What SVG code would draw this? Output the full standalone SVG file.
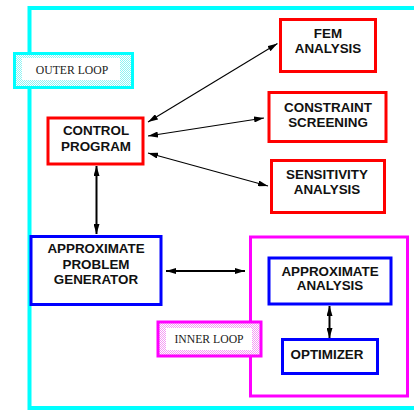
<svg xmlns="http://www.w3.org/2000/svg" width="414" height="410" viewBox="0 0 414 410">
<defs>
<style>
.box{fill:#fff;stroke-width:3}
.red{stroke:#ff0000}
.blue{stroke:#0000ff}
.t{font-family:"Liberation Sans",Arial,sans-serif;font-weight:bold;font-size:13.4px;fill:#111;text-anchor:middle}
.s{font-family:"Liberation Serif","Times New Roman",serif;font-size:11.7px;fill:#222;text-anchor:middle}
.thin{stroke:#000;stroke-width:1.1;fill:none}
.thick{stroke:#000;stroke-width:2;fill:none}
</style>
<pattern id="pc" width="2" height="2" patternUnits="userSpaceOnUse">
<rect width="2" height="2" fill="#ffffff"/>
<rect width="1" height="1" fill="#8ef4f4"/>
<rect x="1" y="1" width="1" height="1" fill="#8ef4f4"/>
</pattern>
<pattern id="pm" width="2" height="2" patternUnits="userSpaceOnUse">
<rect width="2" height="2" fill="#ffffff"/>
<rect width="1" height="1" fill="#f49cf4"/>
<rect x="1" y="1" width="1" height="1" fill="#f49cf4"/>
</pattern>
<marker id="a" viewBox="0 0 10 6" refX="10" refY="3" markerWidth="10" markerHeight="6" markerUnits="userSpaceOnUse" orient="auto-start-reverse">
<path d="M0,0 L10,3 L0,6 z" fill="#000"/>
</marker>
<marker id="b" viewBox="0 0 10 6" refX="10" refY="3" markerWidth="10" markerHeight="6" markerUnits="userSpaceOnUse" orient="auto-start-reverse">
<path d="M0,0 L10,3 L0,6 z" fill="#000"/>
</marker>
</defs>
<rect width="414" height="410" fill="#fff"/>
<g id="outer-frame">
<rect x="29.5" y="8" width="400" height="400" fill="none" stroke="#00ffff" stroke-width="4"/>
</g>
<g id="outer-loop-label">
<rect x="14.5" y="53.5" width="118" height="34" fill="url(#pc)" stroke="#00ffff" stroke-width="3"/>
<rect x="22" y="58" width="98" height="22" fill="#fff"/>
<text class="s" x="72" y="74">OUTER LOOP</text>
</g>
<g id="inner-frame">
<rect x="250.5" y="237" width="157" height="159" fill="#fff" stroke="#ff00ff" stroke-width="3"/>
</g>
<g id="inner-loop-label">
<rect x="158" y="322" width="103" height="34" fill="url(#pm)" stroke="#ff00ff" stroke-width="3"/>
<rect x="166" y="328" width="86" height="22" fill="#fff"/>
<text class="s" x="209" y="343">INNER LOOP</text>
</g>
<g id="control-program">
<rect class="box red" x="48" y="118" width="95" height="46"/>
<text class="t" x="96" y="135">CONTROL</text>
<text class="t" x="96" y="151">PROGRAM</text>
</g>
<g id="fem-analysis">
<rect class="box red" x="280.5" y="19.5" width="95" height="52"/>
<text class="t" x="328" y="38">FEM</text>
<text class="t" x="328" y="53">ANALYSIS</text>
</g>
<g id="constraint-screening">
<rect class="box red" x="269" y="92.5" width="117" height="49"/>
<text class="t" x="328" y="112">CONSTRAINT</text>
<text class="t" x="328" y="127">SCREENING</text>
</g>
<g id="sensitivity-analysis">
<rect class="box red" x="271.5" y="160.5" width="113" height="52"/>
<text class="t" x="327" y="179">SENSITIVITY</text>
<text class="t" x="327" y="194">ANALYSIS</text>
</g>
<g id="approximate-problem-generator">
<rect class="box blue" x="31" y="236.5" width="130" height="68"/>
<text class="t" x="96" y="253">APPROXIMATE</text>
<text class="t" x="96" y="269">PROBLEM</text>
<text class="t" x="96" y="284">GENERATOR</text>
</g>
<g id="approximate-analysis">
<rect class="box blue" x="269" y="258" width="122" height="46"/>
<text class="t" x="330" y="276">APPROXIMATE</text>
<text class="t" x="330" y="290">ANALYSIS</text>
</g>
<g id="optimizer">
<rect class="box blue" x="282.5" y="339.5" width="95" height="34"/>
<text class="t" x="327" y="359">OPTIMIZER</text>
</g>
<g id="connectors">
<line class="thin" x1="148" y1="122" x2="277.5" y2="43.5" marker-start="url(#a)" marker-end="url(#a)"/>
<line class="thin" x1="148" y1="136" x2="264" y2="118" marker-start="url(#a)" marker-end="url(#a)"/>
<line class="thin" x1="148" y1="153" x2="268" y2="186" marker-start="url(#a)" marker-end="url(#a)"/>
<line class="thick" x1="96.5" y1="166" x2="96.5" y2="234" marker-start="url(#b)" marker-end="url(#b)"/>
<line class="thick" x1="166" y1="271" x2="245" y2="271" marker-start="url(#b)" marker-end="url(#b)"/>
<line class="thick" x1="329.5" y1="306" x2="329.5" y2="338" marker-start="url(#b)" marker-end="url(#b)"/>
</g>
</svg>
